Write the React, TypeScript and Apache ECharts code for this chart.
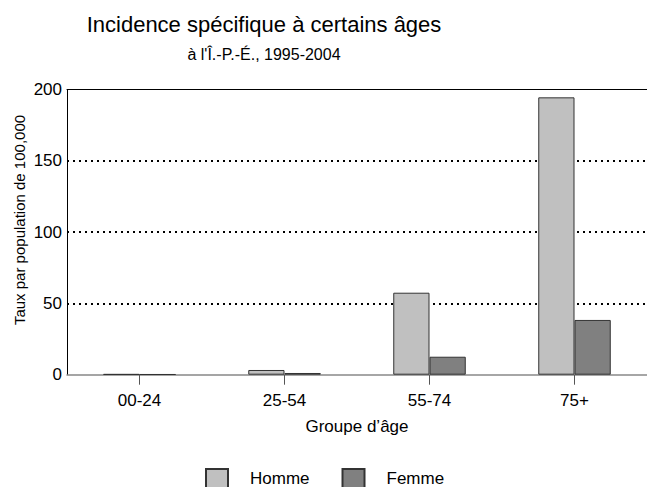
import React, { useEffect, useRef } from "react";
import * as echarts from "echarts";

const categories = ["00-24", "25-54", "55-74", "75+"];
const homme = [0.4, 3.3, 57.5, 194.5];
const femme = [0.3, 1.2, 12.6, 38.4];
const seriesNames = ["Homme", "Femme"];
const titleText = "Incidence spécifique à certains âges";
const subtitleText = "à l'Î.-P.-É., 1995-2004";
const yAxisName = "Taux par population de 100,000";
const xAxisName = "Groupe d’âge";

const FONT = "'Liberation Sans', Arial, sans-serif";

export default function App() {
  const ref = useRef<HTMLDivElement>(null);
  useEffect(() => {
    if (!ref.current) return;
    document.body.style.margin = "0";
    const chart = echarts.init(ref.current, null, { renderer: "svg" });
    chart.setOption({
      animation: false,
      backgroundColor: "#ffffff",
      textStyle: { fontFamily: FONT, color: "#000" },
      graphic: [
        {
          type: "text",
          x: 264,
          y: 24,
          style: {
            text: titleText,
            font: `22px ${FONT}`,
            fill: "#000",
            textAlign: "center",
            textVerticalAlign: "middle",
          },
        },
        {
          type: "text",
          x: 264,
          y: 54,
          style: {
            text: subtitleText,
            font: `16px ${FONT}`,
            fill: "#000",
            textAlign: "center",
            textVerticalAlign: "middle",
          },
        },
        {
          type: "text",
          x: 19.5,
          y: 220,
          rotation: Math.PI / 2,
          style: {
            text: yAxisName,
            font: `15px ${FONT}`,
            fill: "#000",
            textAlign: "center",
            textVerticalAlign: "middle",
          },
        },
      ],
      legend: {
        left: 205,
        top: 468,
        padding: 0,
        itemWidth: 22,
        itemHeight: 19,
        itemGap: 32,
        icon: "rect",
        data: seriesNames,
        textStyle: {
          fontFamily: FONT,
          fontSize: 17,
          lineHeight: 17,
          color: "#000",
          padding: [0, 0, 0, 17],
        },
      },
      grid: {
        left: 67,
        right: -11,
        top: 89.5,
        bottom: 112.3,
        containLabel: false,
      },
      xAxis: [
        {
          type: "category",
          data: categories,
          position: "bottom",
          name: xAxisName,
          nameLocation: "middle",
          nameGap: 43,
          nameTextStyle: { fontFamily: FONT, fontSize: 17, color: "#000" },
          axisLine: { show: true, lineStyle: { color: "#888", width: 1.5 } },
          axisTick: {
            show: true,
            alignWithLabel: true,
            length: 10,
            lineStyle: { color: "#555", width: 1 },
          },
          axisLabel: {
            fontFamily: FONT,
            fontSize: 17,
            color: "#000",
            margin: 17,
          },
          splitLine: { show: false },
        },
        {
          type: "category",
          data: categories,
          position: "top",
          axisLine: { show: true, lineStyle: { color: "#000", width: 1 } },
          axisTick: { show: false },
          axisLabel: { show: false },
          splitLine: { show: false },
        },
      ],
      yAxis: {
        type: "value",
        min: 0,
        max: 200,
        interval: 50,
        axisLine: { show: true, lineStyle: { color: "#000", width: 1 } },
        axisTick: { show: false },
        axisLabel: {
          fontFamily: FONT,
          fontSize: 17,
          color: "#000",
          margin: 5,
        },
        splitLine: {
          show: true,
          showMinLine: false,
          showMaxLine: false,
          lineStyle: { color: "#000", width: 2, type: [2, 4] },
        },
      },
      series: [
        {
          name: seriesNames[0],
          type: "bar",
          data: homme,
          xAxisIndex: 0,
          barWidth: "25%",
          barGap: "0%",
          itemStyle: { color: "#c0c0c0", borderColor: "#333", borderWidth: 1 },
        },
        {
          name: seriesNames[1],
          type: "bar",
          data: femme,
          xAxisIndex: 0,
          barWidth: "25%",
          barGap: "0%",
          itemStyle: { color: "#808080", borderColor: "#333", borderWidth: 1 },
        },
      ],
    });
    return () => chart.dispose();
  }, []);
  return (
    <div
      ref={ref}
      style={{ position: "fixed", left: 0, top: 0, width: 647, height: 487 }}
    />
  );
}
